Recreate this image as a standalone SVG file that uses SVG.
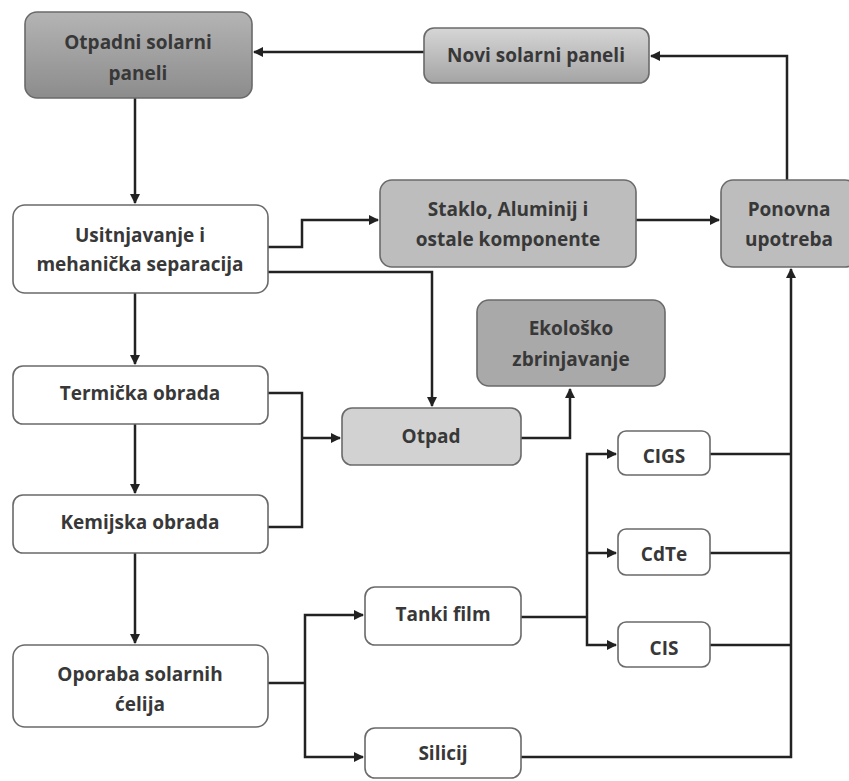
<svg xmlns="http://www.w3.org/2000/svg" width="849" height="781" viewBox="0 0 849 781">
<defs>
<linearGradient id="gDark" x1="0" y1="0" x2="0" y2="1"><stop offset="0" stop-color="#b4b4b4"/><stop offset="1" stop-color="#8c8c8c"/></linearGradient>
<linearGradient id="gLight" x1="0" y1="0" x2="0" y2="1"><stop offset="0" stop-color="#d6d6d6"/><stop offset="1" stop-color="#a4a4a4"/></linearGradient>
<marker id="ah" markerWidth="10" markerHeight="10" refX="9" refY="5" orient="auto" markerUnits="userSpaceOnUse"><path d="M0,0 L10,5 L0,10 Z" fill="#222"/></marker>
<style>
.box{stroke:#6a6a6a;stroke-width:1.6}
.w{fill:#fff}
.g1{fill:#bdbdbd}
.g2{fill:#d2d2d2}
.g3{fill:#a9a9a9}
text{font-family:"Open Sans","Liberation Sans",sans-serif;font-weight:bold;font-size:19px;fill:#383838;text-anchor:middle;dominant-baseline:central}
.c{fill:none;stroke:#222;stroke-width:2.5}
.a{marker-end:url(#ah)}
</style>
</defs>
<g id="connectors">
<path class="c a" d="M424,52 L254,52"/>
<path class="c a" d="M787,180 L787,56 L651,56"/>
<path class="c a" d="M135,98 L135,203"/>
<path class="c a" d="M268,247 L302,247 L302,220 L378,220"/>
<path class="c a" d="M268,272 L432,272 L432,406"/>
<path class="c a" d="M636,220 L719,220"/>
<path class="c a" d="M135,293 L135,364"/>
<path class="c a" d="M135,424 L135,493"/>
<path class="c" d="M268,393 L302,393 L302,527 L268,527"/>
<path class="c a" d="M302,438 L340,438"/>
<path class="c a" d="M521,438 L570,438 L570,389"/>
<path class="c a" d="M135,553 L135,643"/>
<path class="c" d="M268,683 L305,683"/>
<path class="c a" d="M305,683 L305,615 L363,615"/>
<path class="c a" d="M305,683 L305,757 L363,757"/>
<path class="c" d="M521,617 L587,617"/>
<path class="c a" d="M587,617 L587,454 L616,454"/>
<path class="c a" d="M587,553 L616,553"/>
<path class="c a" d="M587,617 L587,645 L616,645"/>
<path class="c" d="M710,454 L791,454"/>
<path class="c" d="M710,553 L791,553"/>
<path class="c" d="M710,645 L791,645"/>
<path class="c a" d="M521,757 L791,757 L791,269"/>
</g>
<g id="otpadni"><rect class="box" x="25" y="12" width="227" height="86" rx="12" fill="url(#gDark)"/><text x="138" y="42">Otpadni solarni</text><text x="138" y="73">paneli</text></g>
<g id="novi"><rect class="box" x="424" y="28" width="225" height="55" rx="10" fill="url(#gLight)"/><text x="536" y="55">Novi solarni paneli</text></g>
<g id="usitnjavanje"><rect class="box w" x="13" y="205" width="255" height="88" rx="12"/><text x="140" y="235">Usitnjavanje i</text><text x="140" y="264">mehanička separacija</text></g>
<g id="staklo"><rect class="box g1" x="380" y="180" width="256" height="87" rx="12"/><text x="508" y="209">Staklo, Aluminij i</text><text x="508" y="239">ostale komponente</text></g>
<g id="ponovna"><rect class="box g1" x="721" y="180" width="136" height="87" rx="12"/><text x="789" y="209">Ponovna</text><text x="789" y="239">upotreba</text></g>
<g id="termicka"><rect class="box w" x="13" y="366" width="255" height="58" rx="10"/><text x="140" y="393">Termička obrada</text></g>
<g id="ekolosko"><rect class="box g3" x="477" y="300" width="188" height="86" rx="12"/><text x="571" y="328">Ekološko</text><text x="571" y="359">zbrinjavanje</text></g>
<g id="otpad"><rect class="box g2" x="342" y="408" width="179" height="57" rx="10"/><text x="431" y="436">Otpad</text></g>
<g id="kemijska"><rect class="box w" x="13" y="495" width="255" height="58" rx="10"/><text x="140" y="522">Kemijska obrada</text></g>
<g id="cigs"><rect class="box w" x="618" y="431" width="92" height="44" rx="8"/><text x="664" y="456">CIGS</text></g>
<g id="cdte"><rect class="box w" x="618" y="529" width="92" height="46" rx="8"/><text x="664" y="554">CdTe</text></g>
<g id="tanki"><rect class="box w" x="365" y="587" width="156" height="58" rx="10"/><text x="443" y="614">Tanki film</text></g>
<g id="cis"><rect class="box w" x="618" y="622" width="92" height="45" rx="8"/><text x="664" y="648">CIS</text></g>
<g id="oporaba"><rect class="box w" x="13" y="645" width="255" height="82" rx="12"/><text x="140" y="674">Oporaba solarnih</text><text x="140" y="704">ćelija</text></g>
<g id="silicij"><rect class="box w" x="365" y="728" width="156" height="50" rx="10"/><text x="443" y="753">Silicij</text></g>
</svg>
